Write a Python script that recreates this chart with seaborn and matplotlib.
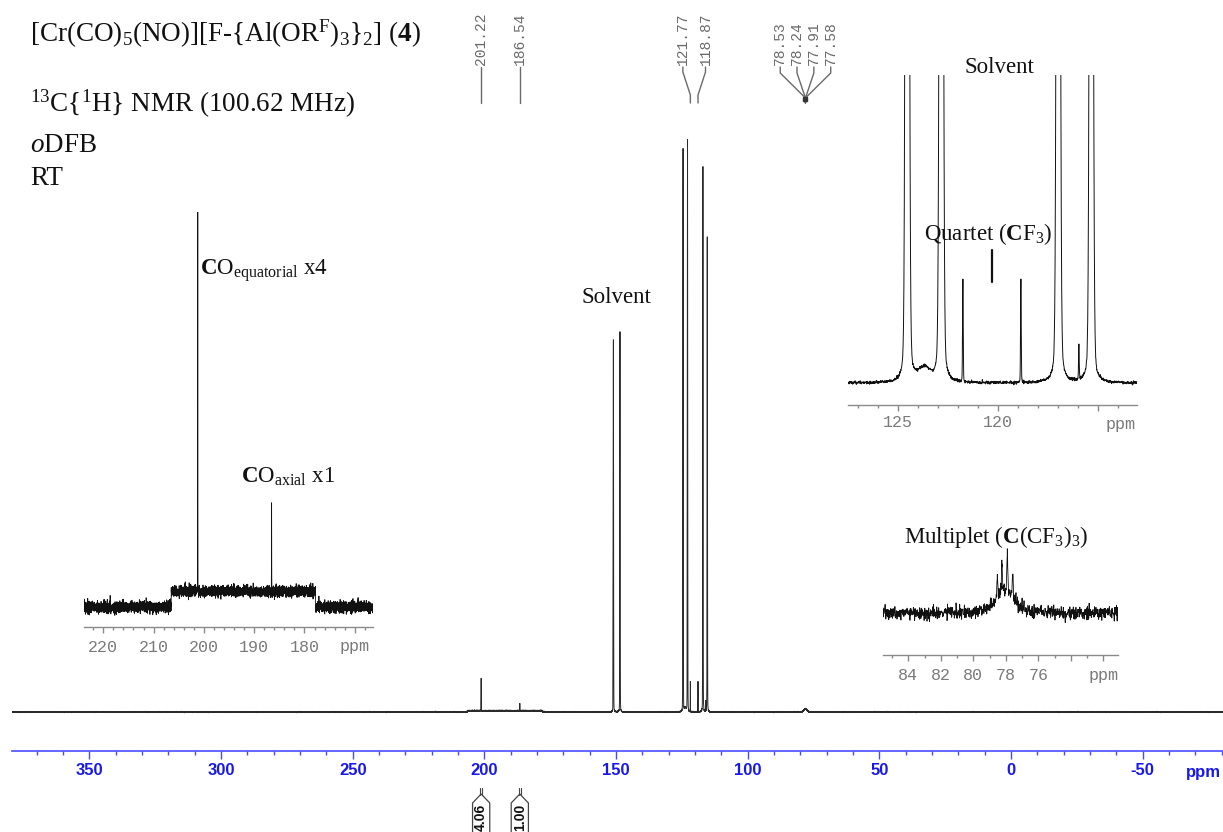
import numpy as np
import pandas as pd
import matplotlib
matplotlib.use("Agg")
import matplotlib.pyplot as plt
from matplotlib.ticker import MultipleLocator
import seaborn as sns

# ---------------- data ----------------
# main 13C{1H} spectrum: shift (ppm), height above baseline (main-plot units), half width (ppm)
peak_ppm    = [201.22, 186.54, 151.00, 148.50, 124.67, 124.55, 123.70, 122.85,
               121.77, 118.87, 117.00, 115.97, 115.35, 78.05]
peak_height = [32.4, 7.4, 372, 380, 10, 563, 4, 572,
               30, 30, 545, 10, 475, 3]
peak_width  = [0.02, 0.02, 0.077, 0.077, 0.02, 0.077, 0.35, 0.077,
               0.02, 0.02, 0.077, 0.02, 0.077, 0.7]
lorentz_fraction = 0.12
baseline_step_ppm = [206.5, 177.8]
baseline_step_height = 1.3
noise_level = 0.22

# expansion of the C(CF3)3 multiplet (inset units)
mult_ppm    = [78.05, 78.53, 78.24, 77.91, 77.58]
mult_height = [20, 24, 33, 42, 23]
mult_width  = [0.7, 0.035, 0.035, 0.035, 0.035]
mult_noise = 3.3

# peak-pick labels and integrals
pick_ppm = [201.22, 186.54, 121.77, 118.87, 78.53, 78.24, 77.91, 77.58]
integral_ppm = [201.22, 186.54]
integral_text = ["4.06", "1.00"]

# axis ticks
main_ticks = [350, 300, 250, 200, 150, 100, 50, 0, -50]
co_ticks = [220, 210, 200, 190, 180, 170]
co_labels = ["220", "210", "200", "190", "180", "ppm"]
cf3_ticks = [125, 120, 115]
cf3_labels = ["125", "120", ""]
mult_ticks = [84, 82, 80, 78, 76, 74, 72]
mult_labels = ["84", "82", "80", "78", "76", "", "ppm"]

# ---------------- style ----------------
sns.set_theme(style="ticks")
plt.rcParams["font.family"] = ["Liberation Serif", "DejaVu Sans"]
plt.rcParams["mathtext.fontset"] = "custom"
plt.rcParams["mathtext.rm"] = "Liberation Serif"
plt.rcParams["mathtext.it"] = "Liberation Serif:italic"
plt.rcParams["mathtext.bf"] = "Liberation Serif:bold"

W, H = 1223, 832
fig = plt.figure(figsize=(W / 100, H / 100), dpi=100)
fig.patch.set_facecolor("white")

BLUE_LINE = "#4b4bff"
BLUE_TEXT = "#1717ee"
GREY = "#8a8a8a"
GREY_TXT = "#7a7a7a"
PT = 0.72  # points per pixel at 100 dpi


def box(l, t, r, b):
    return [l / W, 1 - b / H, (r - l) / W, (b - t) / H]


def ftext(x, y, s, **kw):
    fig.text(x / W, 1 - y / H, s, **kw)


def line_shape(x, pos, hgt, wid, eta=lorentz_fraction):
    y = np.zeros_like(x)
    for p, a, g in zip(pos, hgt, wid):
        u = (x - p) / g
        y += a * ((1 - eta) * np.exp(-np.log(2) * u ** 2) + eta / (1.0 + u ** 2))
    return y


rng = np.random.default_rng(5)
x_main = np.union1d(np.arange(-80.5, 379.5, 0.01), peak_ppm)
y_main = line_shape(x_main, peak_ppm, peak_height, peak_width)
y_main += np.where((x_main < baseline_step_ppm[0]) & (x_main > baseline_step_ppm[1]),
                   baseline_step_height, 0.0)
y_main += rng.normal(0, noise_level, x_main.size)
spec = pd.DataFrame({"ppm": x_main, "intensity": y_main})

x_mult = np.union1d(np.arange(71.0, 85.6, 0.015), mult_ppm)
y_mult = line_shape(x_mult, mult_ppm, mult_height, mult_width, eta=0.5)
y_mult += rng.normal(0, mult_noise, x_mult.size)
mult = pd.DataFrame({"ppm": x_mult, "intensity": y_mult})

# ---------------- main spectrum ----------------
X0, X1 = 379.5, -80.5
ax = fig.add_axes(box(11.7, 0, W, 751))
ax.set_facecolor("none")
sns.lineplot(data=spec, x="ppm", y="intensity", ax=ax, color="#2a2a2a",
             linewidth=0.7, estimator=None)
ax.set_xlim(X0, X1)
ax.set_ylim(-39, 712)
k_main = (W - 11.7) / (X0 - X1)  # px per ppm
for s in ("top", "left", "right"):
    ax.spines[s].set_visible(False)
ax.spines["bottom"].set_color(BLUE_LINE)
ax.spines["bottom"].set_linewidth(1.2)
ax.set_xticks(main_ticks, labels=[str(t) for t in main_ticks], fontweight="bold",
              family=["Liberation Sans"], fontsize=12, color=BLUE_TEXT)
ax.xaxis.set_minor_locator(MultipleLocator(10))
ax.tick_params(axis="x", which="major", direction="out", length=5.8, width=1.0,
               color=BLUE_LINE, pad=3, bottom=True)
ax.tick_params(axis="x", which="minor", direction="out", length=2.6, width=1.0,
               color=BLUE_LINE, bottom=True)
ax.set_yticks([])
ax.set_xlabel("")
ax.set_ylabel("")
ax.annotate("ppm", xy=(X0 - (1203 - 11.7) / k_main, 0), xycoords=("data", "axes fraction"),
            xytext=(0, -22 * PT), textcoords="offset points", ha="center", va="center",
            fontweight="bold", family=["Liberation Sans"], fontsize=12, color=BLUE_TEXT,
            annotation_clip=False)


def v(py):  # main-axes y value for a pixel row
    return 712 - py


# peak-pick labels
offsets = [0, 0, -7.5, 7.5, -24, -8, 8, 24]
groups = [0, 1, 2, 2, 3, 3, 3, 3]
LAB = "#6a6a6a"
jx = np.mean(pick_ppm[4:])
for p, off, g in zip(pick_ppm, offsets, groups):
    tx = p - off / k_main
    ax.text(tx, v(65), f"{p:.2f}", rotation=90, ha="center", va="bottom",
            family=["Liberation Mono"], fontsize=10.5, color=LAB)
    if g in (0, 1):
        ax.plot([p, p], [v(67), v(103)], color=LAB, lw=1.0, clip_on=False)
    elif g == 2:
        ax.plot([tx, tx, p, p], [v(67), v(72), v(95), v(103)], color=LAB, lw=1.0, clip_on=False)
    else:
        ax.plot([tx, tx, jx, jx], [v(67), v(73), v(98), v(103)], color=LAB, lw=1.0, clip_on=False)
ax.plot([jx], [v(99)], "s", ms=2.5, color="#333333", clip_on=False)

# integrals
for p, t in zip(integral_ppm, integral_text):
    d = 0.8 / k_main
    hw = 8.6 / k_main
    for dx in (-d, d):
        ax.plot([p + dx, p + dx], [v(788), v(795)], color="#444444", lw=0.8, clip_on=False)
    ax.plot([p - hw, p - hw, p, p + hw, p + hw], [v(840), v(803), v(794), v(803), v(840)],
            color="#444444", lw=0.9, clip_on=False)
    ax.text(p, v(817), t, rotation=90, ha="center", va="center", fontweight="bold",
            family=["Liberation Sans"], fontsize=10, color="#111111")

ax.text(X0 - (616 - 11.7) / k_main, v(303), "Solvent", ha="center", va="baseline",
        fontsize=16.5, color="#111111")


# ---------------- insets ----------------
def style_inset(a, xlim, ylim, major, labels, minor, pad):
    a.set_xlim(*xlim)
    a.set_ylim(*ylim)
    for s in ("top", "left", "right"):
        a.spines[s].set_visible(False)
    a.spines["bottom"].set_color(GREY)
    a.spines["bottom"].set_linewidth(1.0)
    a.set_xticks(major, labels=labels, family=["Liberation Mono"], fontsize=12, color=GREY_TXT)
    a.xaxis.set_minor_locator(MultipleLocator(minor))
    a.tick_params(axis="x", which="major", direction="out", length=4.5, width=1.0,
                  color=GREY, pad=pad, bottom=True)
    a.tick_params(axis="x", which="minor", direction="out", length=2.3, width=1.0,
                  color=GREY, bottom=True)
    a.set_yticks([])
    a.set_xlabel("")
    a.set_ylabel("")


# CO region (gain 12.1 px per unit, baseline at y=607)
g1 = 12.1
a1 = fig.add_axes(box(84, 212, 373, 627))
a1.set_facecolor("none")
sub1 = spec[(spec.ppm > 166.3) & (spec.ppm < 223.9)]
sns.lineplot(data=sub1, x="ppm", y="intensity", ax=a1, color="#111111", linewidth=0.6,
             estimator=None)
style_inset(a1, (223.84, 166.38), (-(627 - 607) / g1, (607 - 212) / g1),
            co_ticks, co_labels, 2, 4.5)

# CF3 / solvent region (gain 3.4, baseline at y=383)
g2 = 3.4
a2 = fig.add_axes(box(848.3, 75, 1136.7, 405))
a2.set_facecolor("none")
sub2 = spec[(spec.ppm > 113.0) & (spec.ppm < 127.6)]
sns.lineplot(data=sub2, x="ppm", y="intensity", ax=a2, color="#111111", linewidth=0.7,
             estimator=None)
style_inset(a2, (127.5, 113.08), (-(405 - 383) / g2, (383 - 75) / g2),
            cf3_ticks, cf3_labels, 1, 3)
a2.annotate("ppm", xy=(113.9, 0), xycoords=("data", "axes fraction"), xytext=(0, -19 * PT),
            textcoords="offset points", ha="center", va="center", family=["Liberation Mono"],
            fontsize=12, color=GREY_TXT, annotation_clip=False)
qc = np.mean(pick_ppm[2:4])
a2.plot([qc, qc], [(383 - 250) / g2, (383 - 282) / g2], color="#111111", lw=1.6, clip_on=False)

# C(CF3)3 multiplet (inset pixel units, baseline at y=613)
a3 = fig.add_axes(box(883.3, 500, 1118.3, 655))
a3.set_facecolor("none")
sns.lineplot(data=mult, x="ppm", y="intensity", ax=a3, color="#111111", linewidth=0.6,
             estimator=None)
style_inset(a3, (85.54, 71.08), (-(655 - 613), 613 - 500), mult_ticks, mult_labels, 1, 5)

# ---------------- texts ----------------
ftext(30, 42, r"[Cr(CO)$_5$(NO)][F-{Al(OR$^\mathrm{F}$)$_3$}$_2$] ($\mathbf{4}$)",
      fontsize=19.5, va="baseline", color="#111111")
ftext(30, 112, r"$^{13}$C{$^1$H} NMR (100.62 MHz)", fontsize=19.5, va="baseline", color="#111111")
ftext(30, 152, r"$o$DFB", fontsize=19.5, va="baseline", color="#111111")
ftext(30, 185, "RT", fontsize=19.5, va="baseline", color="#111111")

ftext(200, 275, r"$\mathbf{C}$O$_\mathrm{equatorial}$ x4", fontsize=16.5, va="baseline",
      color="#111111")
ftext(241, 483, r"$\mathbf{C}$O$_\mathrm{axial}$ x1", fontsize=16.5, va="baseline", color="#111111")
ftext(999, 73, "Solvent", fontsize=16.5, ha="center", va="baseline", color="#111111")
ftext(988, 240, r"Quartet ($\mathbf{C}$F$_3$)", fontsize=16.5, ha="center", va="baseline",
      color="#111111")
ftext(996, 543, r"Multiplet ($\mathbf{C}$(CF$_3$)$_3$)", fontsize=16.5, ha="center",
      va="baseline", color="#111111")

fig.savefig("out.png", dpi=100, facecolor="white")
